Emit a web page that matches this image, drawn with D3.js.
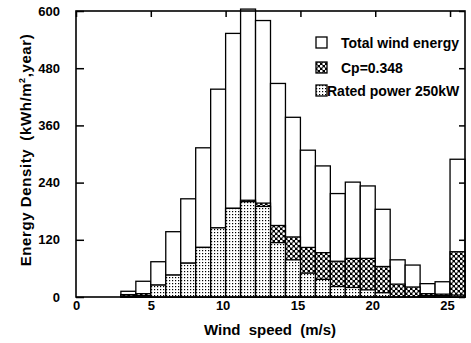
<!DOCTYPE html>
<html>
<head>
<meta charset="utf-8">
<style>
body { margin: 0; background: #fff; }
text { font-family: "Liberation Sans", Arial, sans-serif; font-weight: bold; fill: #000; }
</style>
</head>
<body>
<script src="https://d3js.org/d3.v7.min.js"></script>
<div id="chart"></div>
<script>

// wind speed class (m/s), each bar covers [v, v+1)
var speeds = [3, 4, 5, 6, 7, 8, 9, 10, 11, 12, 13, 14, 15, 16, 17, 18, 19, 20, 21, 22, 23, 24, 25];
// energy density kWh/m2.year
var totalEnergy = [12, 33, 74, 137, 206, 313, 436, 553, 604, 580, 448, 377, 308, 275, 217, 241, 233, 184, 78, 67, 28, 32, 289];
var cpEnergy    = [5, 7, 25, 46, 71, 104, 145, 186, 203, 197, 150, 126, 104, 93, 75, 81, 81, 64, 27, 21, 7, 6, 95];
var ratedEnergy = [2, 3, 25, 46, 71, 104, 145, 186, 200, 190, 114, 78, 50, 37, 22, 20, 15, 9, 0, 0, 3, 3, 4];

var xTicks = [0, 5, 10, 15, 20, 25];
var yTicks = [0, 120, 240, 360, 480, 600];
var legendLabels = ["Total wind energy", "Cp=0.348", "Rated power 250kW"];

var W = 471, H = 343;
var pLeft = 76, pRight = 465, pTop = 11, pBottom = 297;

var svg = d3.select("#chart").append("svg")
    .attr("width", W)
    .attr("height", H);

// fill patterns
var defs = svg.append("defs");
var cross = defs.append("pattern")
    .attr("id", "cross")
    .attr("patternUnits", "userSpaceOnUse")
    .attr("width", 5).attr("height", 5);
cross.append("rect").attr("width", 5).attr("height", 5).attr("fill", "#000");
cross.append("circle").attr("cx", 1.25).attr("cy", 1.25).attr("r", 1.4).attr("fill", "#fff");
cross.append("circle").attr("cx", 3.75).attr("cy", 3.75).attr("r", 1.4).attr("fill", "#fff");

var dots = defs.append("pattern")
    .attr("id", "dots")
    .attr("patternUnits", "userSpaceOnUse")
    .attr("width", 3).attr("height", 3);
dots.append("rect").attr("width", 3).attr("height", 3).attr("fill", "#fff");
dots.append("rect").attr("x", 1).attr("y", 1).attr("width", 1.2).attr("height", 1.2).attr("fill", "#000");

var x = d3.scaleLinear().domain([0, 26]).range([pLeft, pRight]);
var y = d3.scaleLinear().domain([0, 600]).range([pBottom, pTop]);

var rows = speeds.map(function(s, i) {
  return { v: s, total: totalEnergy[i], cp: cpEnergy[i], rated: ratedEnergy[i] };
});

// bars: total, then Cp, then rated power drawn on top
function drawBars(key, fill) {
  svg.append("g").selectAll("rect")
    .data(rows.filter(function(d) { return d[key] > 0; }))
    .enter()
    .append("rect")
      .attr("x", function(d) { return x(d.v); })
      .attr("y", function(d) { return y(d[key]); })
      .attr("width", function(d) { return x(d.v + 1) - x(d.v); })
      .attr("height", function(d) { return y(0) - y(d[key]); })
      .attr("fill", fill)
      .attr("stroke", "#000")
      .attr("stroke-width", 1.3);
}
drawBars("total", "#fff");
drawBars("cp", "url(#cross)");
drawBars("rated", "url(#dots)");

// frame
svg.append("rect")
    .attr("x", pLeft).attr("y", pTop)
    .attr("width", pRight - pLeft).attr("height", pBottom - pTop)
    .attr("fill", "none")
    .attr("stroke", "#000")
    .attr("stroke-width", 1.6);

// axes, ticks pointing inside
var yAxis = svg.append("g")
    .attr("transform", "translate(" + pLeft + ",0)")
    .call(d3.axisLeft(y).tickValues(yTicks).tickSizeInner(-8).tickSizeOuter(0).tickPadding(16));
var yAxisR = svg.append("g")
    .attr("transform", "translate(" + pRight + ",0)")
    .call(d3.axisRight(y).tickValues(yTicks).tickSizeInner(-6).tickSizeOuter(0).tickFormat(""));
var xAxisT = svg.append("g")
    .attr("transform", "translate(0," + pTop + ")")
    .call(d3.axisTop(x).tickValues(xTicks).tickSizeInner(-6).tickSizeOuter(0).tickFormat(""));
var xAxis = svg.append("g")
    .attr("transform", "translate(0," + pBottom + ")")
    .call(d3.axisBottom(x).tickValues(xTicks).tickSize(0).tickPadding(4));

[yAxis, yAxisR, xAxisT, xAxis].forEach(function(a) {
  a.select(".domain").remove();
  a.selectAll(".tick line").attr("stroke", "#000").attr("stroke-width", 1.5);
  a.selectAll("text").attr("font-size", 13).attr("font-family", null).attr("fill", "#000");
});
xAxis.selectAll("text").attr("dx", function(d) { return d >= 10 ? -3 : 0; });

// axis titles
svg.append("text")
    .attr("x", 270)
    .attr("y", 335)
    .attr("text-anchor", "middle")
    .attr("font-size", 15)
    .attr("word-spacing", 4)
    .text("Wind speed (m/s)");

var yt = svg.append("text")
    .attr("transform", "translate(31,150) rotate(-90)")
    .attr("text-anchor", "middle")
    .attr("font-size", 15)
    .attr("letter-spacing", 0.6);
yt.append("tspan").text("Energy Density\u2002(kWh/m");
yt.append("tspan").attr("font-size", 9).attr("dy", -6).text("2");
yt.append("tspan").attr("dy", 6).text(",year)");

// legend
var legendFill = ["#fff", "url(#cross)", "url(#dots)"];
var legendY = [37, 62, 85];
var legendTextX = [341, 341, 327];
var lg = svg.append("g").selectAll("g")
    .data(legendLabels)
    .enter()
    .append("g");
lg.append("rect")
    .attr("x", 316)
    .attr("y", function(d, i) { return legendY[i]; })
    .attr("width", 11).attr("height", 11)
    .attr("fill", function(d, i) { return legendFill[i]; })
    .attr("stroke", "#000")
    .attr("stroke-width", 1.3);
lg.append("text")
    .attr("x", function(d, i) { return legendTextX[i]; })
    .attr("y", function(d, i) { return legendY[i] + 11; })
    .attr("font-size", 14)
    .text(function(d) { return d; });

</script>
</body>
</html>
